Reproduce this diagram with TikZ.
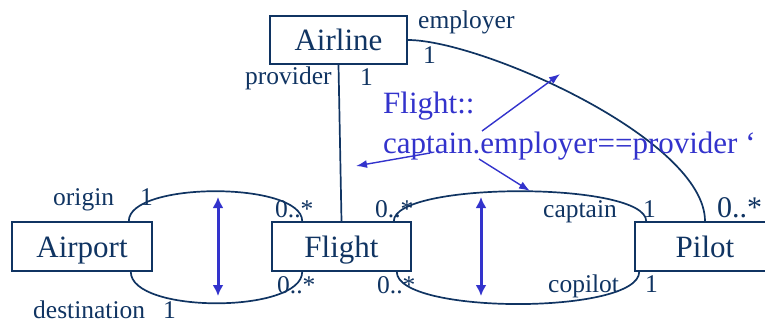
\documentclass[tikz,border=0pt]{standalone}
\usepackage{fontspec}
\setmainfont{Liberation Serif}
\usetikzlibrary{arrows.meta}
\definecolor{umlnavy}{RGB}{16,52,98}
\definecolor{oclblue}{RGB}{51,51,204}
\begin{document}
\begin{tikzpicture}[x=1pt,y=-1pt,
  classbox/.style={draw=umlnavy, line width=1.6pt, text=umlnavy,
    font=\fontsize{31}{31}\selectfont, text height=21.5pt, text depth=0.5pt,
    inner sep=0pt, minimum height=49pt},
  role/.style={text=umlnavy, font=\fontsize{25.5}{25.5}\selectfont,
    inner sep=0pt, anchor=base west},
  assoc/.style={draw=umlnavy, line width=1.7pt},
  ocltext/.style={text=oclblue, font=\fontsize{31}{31}\selectfont,
    inner sep=0pt, anchor=base west},
  navarrow/.style={draw=oclblue, line width=1.4pt, -{Latex[length=11pt,width=8pt]}},
  pairarrow/.style={draw=oclblue, line width=3pt,
    {Latex[length=11pt,width=11pt]}-{Latex[length=11pt,width=11pt]}}
]
\useasboundingbox (0,0) rectangle (765,322);

% classes
\node[classbox, minimum width=137pt, minimum height=48pt] (airline) at (338.5,40) {Airline};
\node[classbox, minimum width=140pt] (airport) at (82,246.5) {Airport};
\node[classbox, minimum width=139pt] (flight) at (341.5,246.5) {Flight};
\node[classbox, minimum width=140pt] (pilot) at (705,246.5) {Pilot};

% associations
\draw[assoc] (airline.south) -- (flight.north);
\draw[assoc] (airline.east) .. controls +(73,0) and +(0,-82) .. (pilot.north);
\draw[assoc] ([xshift=-24pt]airport.north east) .. controls +(0,-40) and +(0,-40) .. ([xshift=31pt]flight.north west);
\draw[assoc] ([xshift=-22pt]airport.south east) .. controls +(0,42) and +(0,42) .. ([xshift=31pt]flight.south west);
\draw[assoc] ([xshift=-18pt]flight.north east) .. controls +(0,-40) and +(0,-40) .. ([xshift=12pt]pilot.north west);
\draw[assoc] ([xshift=-15pt]flight.south east) .. controls +(0,43) and +(0,43) .. ([xshift=5pt]pilot.south west);

% role names and multiplicities
\node[role] (employerlbl) at (418,28) {employer};
\node[role] (employermult) at (423,63) {1};
\node[role] (providerlbl) at (245,84) {provider};
\node[role] (providermult) at (360,85) {1};
\node[role] (originlbl) at (53,205) {origin};
\node[role] (originmult) at (140,205) {1};
\node[role] (destlbl) at (33,318) {destination};
\node[role] (destmult) at (163,318) {1};
\node[role] (origflights) at (275,217) {0..*};
\node[role] (destflights) at (277,293) {0..*};
\node[role] (captflights) at (375,217) {0..*};
\node[role] (copflights) at (377,293) {0..*};
\node[role] (captainlbl) at (543,217) {captain};
\node[role] (captainmult) at (643,217) {1};
\node[role] (copilotlbl) at (548,292) {copilot};
\node[role] (copilotmult) at (645,292) {1};
\node[role, font=\fontsize{30}{30}\selectfont] (pilotsmult) at (717,217) {0..*};

% constraint
\node[ocltext] (ocl1) at (383,113) {Flight::};
\node[ocltext] (ocl2) at (383,153) {captain.employer==provider ‘};

% navigation arrows
\coordinate (nav1s) at (482,131); \coordinate (nav1e) at (560,74);
\coordinate (nav2s) at (430,153); \coordinate (nav2e) at (356,166);
\coordinate (nav3s) at (479,159); \coordinate (nav3e) at (530,191);
\draw[navarrow] (nav1s) -- (nav1e);
\draw[navarrow] (nav2s) -- (nav2e);
\draw[navarrow] (nav3s) -- (nav3e);

% paired associations
\coordinate (pairAt) at (218,197); \coordinate (pairAb) at (218,296);
\coordinate (pairBt) at (481,197); \coordinate (pairBb) at (481,296);
\draw[pairarrow] (pairAt) -- (pairAb);
\draw[pairarrow] (pairBt) -- (pairBb);
\end{tikzpicture}
\end{document}
